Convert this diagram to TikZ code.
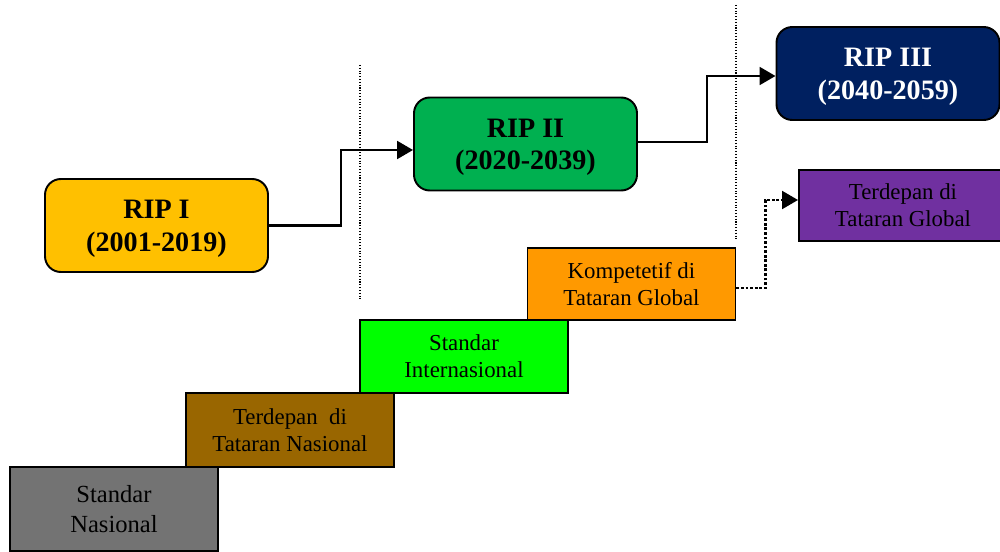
\documentclass[tikz,border=0pt]{standalone}
\usepackage{fontspec}
\setmainfont{Liberation Serif}
\usepackage{xcolor}
\usepackage{tikz}
\usetikzlibrary{arrows.meta}
\definecolor{ripyellow}{HTML}{FFC000}
\definecolor{ripgreen}{HTML}{00B050}
\definecolor{ripnavy}{HTML}{002060}
\definecolor{stepgray}{HTML}{737373}
\definecolor{stepbrown}{HTML}{996600}
\definecolor{steplime}{HTML}{00FF00}
\definecolor{steporange}{HTML}{FF9900}
\definecolor{steppurple}{HTML}{7030A0}
\newcommand{\ripstrut}{\rule{0pt}{14pt}}
\tikzset{ rip_box/.style = {rectangle, rounded corners=9pt, draw, line width=1.1pt, align=center, minimum width=4.46cm, minimum height=1.86cm, font=\fontsize{16}{18.5}\selectfont\bfseries} }
\tikzset{ stair_box/.style = {rectangle, draw, line width=1.1pt, align=center, minimum width=4.16cm, font=\fontsize{13}{15.5}\selectfont} }
\tikzset{ link/.style = {line width=1.6pt, -{Triangle[length=9pt,width=10pt]}} }
\tikzset{ divider/.style = {densely dotted, line width=0.6pt} }

\begin{document}
\begin{tikzpicture}
    \useasboundingbox (0,0) rectangle (20,11.02);
    \node[rip_box, fill=ripyellow] (R1) at (3.13, 6.51) {\ripstrut RIP I\\(2001-2019)};
    \node[rip_box, fill=ripgreen] (R2) at (10.51, 8.14) {\ripstrut RIP II\\(2020-2039)};
    \node[rip_box, fill=ripnavy, text=white] (R3) at (17.76, 9.55) {\ripstrut RIP III\\(2040-2059)};
    \node[stair_box, fill=stepgray, minimum height=1.68cm, font=\fontsize{14}{17}\selectfont] (SN) at (2.28, 0.84) {Standar\\Nasional};
    \node[stair_box, fill=stepbrown, minimum height=1.48cm] (TN) at (5.8, 2.42) {Terdepan\ \ di\\Tataran Nasional};
    \node[stair_box, fill=steplime, minimum height=1.46cm] (SI) at (9.28, 3.89) {Standar\\Internasional};
    \node[stair_box, fill=steporange, minimum height=1.44cm] (KG) at (12.63, 5.34) {Kompetetif di\\Tataran Global};
    \node[stair_box, fill=steppurple, minimum height=1.42cm] (TG) at (18.06, 6.91) {Terdepan di\\Tataran Global};
    \coordinate (D1a) at (7.2, 9.72);
    \coordinate (D1b) at (7.2, 5.02);
    \coordinate (D2a) at (14.72, 10.92);
    \coordinate (D2b) at (14.72, 6.22);
    \draw[divider] (D1a) -- (D1b);
    \draw[divider] (D2a) -- (D2b);
    \draw[link] (R1.east) -- ++(1.44,0) |- ([yshift=-0.12cm]R2.west);
    \draw[link] ([yshift=0.04cm]R2.east) -- ++(1.38,0) |- ([yshift=-0.05cm]R3.west);
    \draw[link, densely dotted] ([yshift=-0.08cm]KG.east) -- ++(0.58,0) |- ([yshift=0.11cm]TG.west);
\end{tikzpicture}
\end{document}
